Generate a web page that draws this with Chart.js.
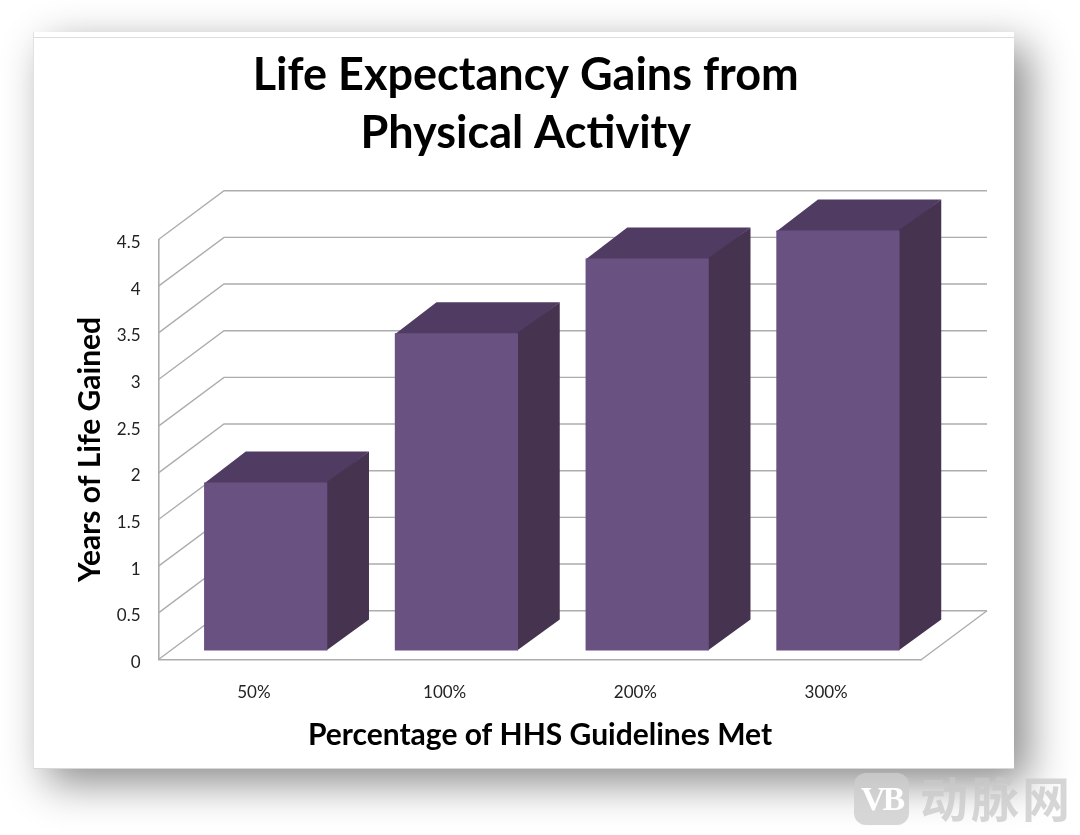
<!DOCTYPE html>
<html>
<head>
<meta charset="utf-8">
<script src="https://cdn.jsdelivr.net/npm/chart.js@4"></script>
<style>
html, body { margin: 0; background: #fff; }
body { width: 1080px; height: 835px; position: relative; overflow: hidden; }
#card { position: absolute; left: 33px; top: 32px; width: 981px; height: 737px; background: #fff;
    box-shadow: 14px 14px 40px rgba(0,0,0,.46), inset 1px 0 #e2e2e2, inset 0 -1px #d8d8d8; }
#card:before { content: ''; position: absolute; left: 0; right: 0; top: 5px; height: 1px; background: #dcdcdc; }
canvas { position: absolute; left: 0; top: 0; }
#logo { position: absolute; left: 854px; top: 773px; width: 55px; height: 52px; border-radius: 12px; background: rgba(205,205,205,.8);
    color: #fff; font: 700 34px/52px "Liberation Serif"; text-align: center; letter-spacing: -3px; }
#mark { position: absolute; left: 920px; top: 762px; color: rgba(200,200,200,.75);
    font: 700 48px/68px "Noto Sans CJK SC"; letter-spacing: 3px; white-space: nowrap; }
</style>
</head>
<body>
<div id="card"></div>
<canvas id="lifeChart" width="1080" height="835"></canvas>
<div id="logo">VB</div>
<div id="mark">动脉网</div>
<script>
const categories = ['50%', '100%', '200%', '300%'];
const yearsGained = [1.8, 3.4, 4.2, 4.5];
const titleLines = ['Life Expectancy Gains from', 'Physical Activity'];
const xTitle = 'Percentage of HHS Guidelines Met';
const yTitle = 'Years of Life Gained';

const FONT = 'Lato';
const GRID = '#adadad';
const WALL = { dx: 65.5, dy: -48.8 };     // depth of the 3d box
const BAR_SHIFT = { dx: 11.8, dy: -9 };   // bars sit a bit inside the floor
const BAR_DEPTH = { dx: 41.7, dy: -31 };

const poly = (ctx, pts, fill) => {
    ctx.beginPath();
    pts.forEach((p, i) => i ? ctx.lineTo(p[0], p[1]) : ctx.moveTo(p[0], p[1]));
    ctx.closePath();
    ctx.fillStyle = fill;
    ctx.fill();
};

const box3d = {
    id: 'box3d',
    afterLayout(chart) {
        // the title is not centred on the canvas in the original
        chart.titleBlock.left += 30;
        chart.titleBlock.right += 30;
    },
    beforeDatasetsDraw(chart) {
        const { ctx, chartArea: a, scales: { y } } = chart;
        ctx.save();
        ctx.strokeStyle = GRID;
        ctx.lineWidth = 1.4;
        // walls
        y.ticks.forEach(t => {
            const py = y.getPixelForValue(t.value);
            ctx.beginPath();
            ctx.moveTo(a.left, py);
            ctx.lineTo(a.left + WALL.dx, py + WALL.dy);
            ctx.lineTo(a.right + WALL.dx, py + WALL.dy);
            ctx.stroke();
        });
        // floor right edge
        ctx.beginPath();
        ctx.moveTo(a.right, a.bottom);
        ctx.lineTo(a.right + WALL.dx, a.bottom + WALL.dy);
        ctx.stroke();

        // top and side faces of the bars, 1px under the front face so no seam shows
        chart.getDatasetMeta(0).data.forEach(bar => {
            const l = bar.x - bar.width / 2 + BAR_SHIFT.dx;
            const r = bar.x + bar.width / 2 + BAR_SHIFT.dx;
            const t = bar.y + BAR_SHIFT.dy;
            const b = bar.base + BAR_SHIFT.dy;
            const d = BAR_DEPTH;
            poly(ctx, [[l, t + 1], [l + d.dx, t + d.dy], [r + d.dx, t + d.dy], [r, t + 1]], '#503c63');
            poly(ctx, [[r - 1, t], [r + d.dx, t + d.dy], [r + d.dx, b + d.dy], [r - 1, b]], '#453350');
        });
        ctx.restore();
    },
    beforeDatasetDraw(chart) {
        chart.ctx.save();
        chart.ctx.translate(BAR_SHIFT.dx, BAR_SHIFT.dy);
    },
    afterDatasetDraw(chart) {
        chart.ctx.restore();
    }
};

new Chart(document.getElementById('lifeChart'), {
    type: 'bar',
    data: {
        labels: categories,
        datasets: [{
            data: yearsGained,
            backgroundColor: '#695181',
            categoryPercentage: 1,
            barPercentage: 0.646,
            clip: false
        }]
    },
    plugins: [box3d],
    options: {
        responsive: false,
        animation: false,
        layout: { padding: { left: 70, right: 158.5, top: 0, bottom: 75.5 } },
        plugins: {
            legend: { display: false },
            tooltip: { enabled: false },
            title: {
                display: true,
                text: titleLines,
                color: '#000',
                font: { family: FONT, size: 45, weight: 'bold', lineHeight: 58 / 45 },
                padding: { top: 46, bottom: 77.5 }
            }
        },
        scales: {
            x: {
                afterFit: s => { s.height = 100; },
                grid: { display: false },
                border: { display: true, color: GRID, width: 1.6 },
                ticks: { color: '#222', padding: 15, font: { family: FONT, size: 17 } },
                title: {
                    display: true,
                    text: xTitle,
                    color: '#000',
                    font: { family: FONT, size: 30, weight: 'bold' },
                    padding: { top: 0, bottom: 6 }
                }
            },
            y: {
                min: 0,
                max: 4.5,
                afterFit: s => { s.width = 88.5; },
                grid: { display: false },
                border: { display: true, color: GRID, width: 1.6 },
                ticks: {
                    stepSize: 0.5,
                    color: '#222',
                    padding: 10,
                    labelOffset: 3,
                    font: { family: FONT, size: 17 },
                    callback: v => String(v)
                },
                title: {
                    display: true,
                    text: yTitle,
                    color: '#000',
                    font: { family: FONT, size: 30, weight: 'bold' },
                    padding: { top: 2, bottom: 0 }
                }
            }
        }
    }
});
</script>
</body>
</html>
